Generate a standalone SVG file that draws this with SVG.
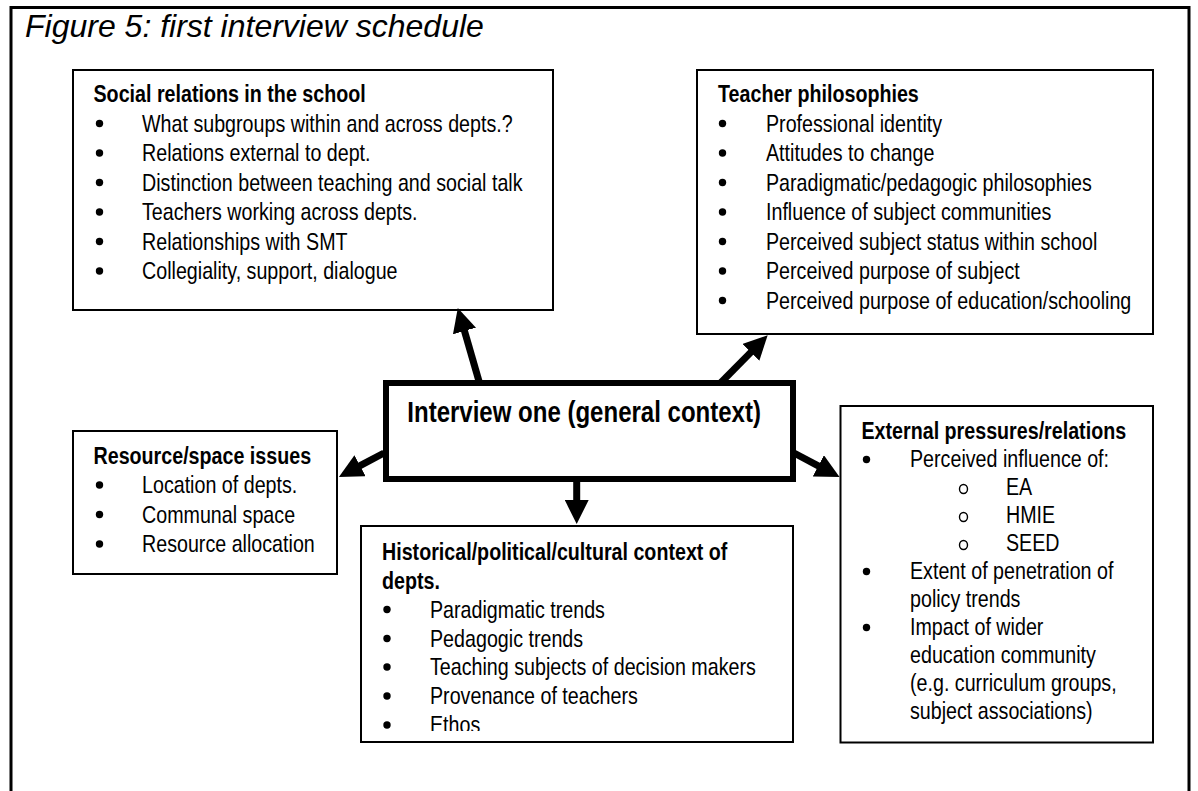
<svg xmlns="http://www.w3.org/2000/svg" width="1198" height="791" viewBox="0 0 1198 791">
<style>
text{font-family:"Liberation Sans",Arial,sans-serif;fill:#000}
.t{font-size:32px;font-style:italic}
.h{font-size:24px;font-weight:bold}
.b{font-size:24px}
.c{font-size:29.3px;font-weight:bold}
.box{fill:#fff;stroke:#000;stroke-width:2}
.main{fill:#fff;stroke:#000;stroke-width:6}
.frame{fill:none;stroke:#000;stroke-width:3}
.arrow{stroke:#000;stroke-width:7;fill:none;marker-end:url(#ah)}
.dot{fill:#000}
.ring{fill:none;stroke:#000;stroke-width:1.4}
</style>
<defs>
<marker id="ah" markerUnits="userSpaceOnUse" viewBox="0 0 24 24" markerWidth="24" markerHeight="24" refX="1" refY="12" orient="auto"><path d="M0,0 L24,12 L0,24 z" fill="#000"/></marker>
<clipPath id="histclip"><rect x="361" y="526" width="432" height="205"/></clipPath>
</defs>
<rect width="1198" height="791" fill="#fff"/>
<path class="frame" d="M11,800 L11,7.5 L1189,7.5 L1189,800"/>
<text class="t" x="25" y="37">Figure 5: first interview schedule</text>

<g id="social">
<rect class="box" x="73" y="70" width="480" height="240"/>
<text class="h" transform="translate(93.5,102) scale(0.82,1)">Social relations in the school</text>
<circle class="dot" cx="99.5" cy="123.5" r="3.7"/>
<circle class="dot" cx="99.5" cy="153" r="3.7"/>
<circle class="dot" cx="99.5" cy="182.5" r="3.7"/>
<circle class="dot" cx="99.5" cy="212" r="3.7"/>
<circle class="dot" cx="99.5" cy="241.5" r="3.7"/>
<circle class="dot" cx="99.5" cy="271" r="3.7"/>
<text class="b" transform="translate(142,131.5) scale(0.82,1)">What subgroups within and across depts.?</text>
<text class="b" transform="translate(142,161) scale(0.82,1)">Relations external to dept.</text>
<text class="b" transform="translate(142,190.5) scale(0.82,1)">Distinction between teaching and social talk</text>
<text class="b" transform="translate(142,220) scale(0.82,1)">Teachers working across depts.</text>
<text class="b" transform="translate(142,249.5) scale(0.82,1)">Relationships with SMT</text>
<text class="b" transform="translate(142,279) scale(0.82,1)">Collegiality, support, dialogue</text>
</g>

<g id="teacher">
<rect class="box" x="697" y="70" width="456" height="264"/>
<text class="h" transform="translate(718,102) scale(0.82,1)">Teacher philosophies</text>
<circle class="dot" cx="722.5" cy="123.5" r="3.7"/>
<circle class="dot" cx="722.5" cy="153" r="3.7"/>
<circle class="dot" cx="722.5" cy="182.5" r="3.7"/>
<circle class="dot" cx="722.5" cy="212" r="3.7"/>
<circle class="dot" cx="722.5" cy="241.5" r="3.7"/>
<circle class="dot" cx="722.5" cy="271" r="3.7"/>
<circle class="dot" cx="722.5" cy="300.5" r="3.7"/>
<text class="b" transform="translate(766,131.5) scale(0.82,1)">Professional identity</text>
<text class="b" transform="translate(766,161) scale(0.82,1)">Attitudes to change</text>
<text class="b" transform="translate(766,190.5) scale(0.82,1)">Paradigmatic/pedagogic philosophies</text>
<text class="b" transform="translate(766,220) scale(0.82,1)">Influence of subject communities</text>
<text class="b" transform="translate(766,249.5) scale(0.82,1)">Perceived subject status within school</text>
<text class="b" transform="translate(766,279) scale(0.82,1)">Perceived purpose of subject</text>
<text class="b" transform="translate(766,308.5) scale(0.82,1)">Perceived purpose of education/schooling</text>
</g>

<g id="interview">
<rect class="main" x="386" y="383" width="407" height="96"/>
<text class="c" transform="translate(407.3,421.7) scale(0.82,1)">Interview one (general context)</text>
</g>

<g id="resource">
<rect class="box" x="73" y="431" width="264" height="143"/>
<text class="h" transform="translate(93.5,463.5) scale(0.82,1)">Resource/space issues</text>
<circle class="dot" cx="99.5" cy="485" r="3.7"/>
<circle class="dot" cx="99.5" cy="514.5" r="3.7"/>
<circle class="dot" cx="99.5" cy="544" r="3.7"/>
<text class="b" transform="translate(142,493) scale(0.82,1)">Location of depts.</text>
<text class="b" transform="translate(142,522.5) scale(0.82,1)">Communal space</text>
<text class="b" transform="translate(142,552) scale(0.82,1)">Resource allocation</text>
</g>

<g id="history">
<rect class="box" x="361" y="526" width="432" height="216"/>
<text class="h" transform="translate(382,559.5) scale(0.82,1)">Historical/political/cultural context of</text>
<text class="h" transform="translate(382,588.5) scale(0.82,1)">depts.</text>
<circle class="dot" cx="387" cy="609.5" r="3.7"/>
<circle class="dot" cx="387" cy="638.5" r="3.7"/>
<circle class="dot" cx="387" cy="667" r="3.7"/>
<circle class="dot" cx="387" cy="696" r="3.7"/>
<circle class="dot" cx="387" cy="725" r="3.7"/>
<text class="b" transform="translate(430,617.5) scale(0.82,1)">Paradigmatic trends</text>
<text class="b" transform="translate(430,646.5) scale(0.82,1)">Pedagogic trends</text>
<text class="b" transform="translate(430,675) scale(0.82,1)">Teaching subjects of decision makers</text>
<text class="b" transform="translate(430,704) scale(0.82,1)">Provenance of teachers</text>
<g clip-path="url(#histclip)"><text class="b" transform="translate(430,733) scale(0.82,1)">Ethos</text></g>
</g>

<g id="external">
<rect class="box" x="840.5" y="406" width="312.5" height="336.5"/>
<text class="h" transform="translate(861.5,438.5) scale(0.82,1)">External pressures/relations</text>
<circle class="dot" cx="866.5" cy="459.5" r="3.7"/>
<text class="b" transform="translate(910,466.5) scale(0.82,1)">Perceived influence of:</text>
<ellipse class="ring" cx="963.5" cy="489" rx="4" ry="4.5"/>
<ellipse class="ring" cx="963.5" cy="517" rx="4" ry="4.5"/>
<ellipse class="ring" cx="963.5" cy="545" rx="4" ry="4.5"/>
<text class="b" transform="translate(1006,494.5) scale(0.82,1)">EA</text>
<text class="b" transform="translate(1006,522.5) scale(0.82,1)">HMIE</text>
<text class="b" transform="translate(1006,550.5) scale(0.82,1)">SEED</text>
<circle class="dot" cx="866.5" cy="571.5" r="3.7"/>
<text class="b" transform="translate(910,578.5) scale(0.82,1)">Extent of penetration of</text>
<text class="b" transform="translate(910,606.5) scale(0.82,1)">policy trends</text>
<circle class="dot" cx="866.5" cy="627.5" r="3.7"/>
<text class="b" transform="translate(910,634.5) scale(0.82,1)">Impact of wider</text>
<text class="b" transform="translate(910,662.5) scale(0.82,1)">education community</text>
<text class="b" transform="translate(910,690.5) scale(0.82,1)">(e.g. curriculum groups,</text>
<text class="b" transform="translate(910,718.5) scale(0.82,1)">subject associations)</text>
</g>

<g id="connectors">
<path class="arrow" d="M479.5,383 L464.2,330"/>
<path class="arrow" d="M720.5,383 L751.5,351.6"/>
<path class="arrow" d="M384,453 L359.2,466.2"/>
<path class="arrow" d="M576.7,479 L576.7,501"/>
<path class="arrow" d="M794,453 L819.2,466.3"/>
</g>
</svg>
